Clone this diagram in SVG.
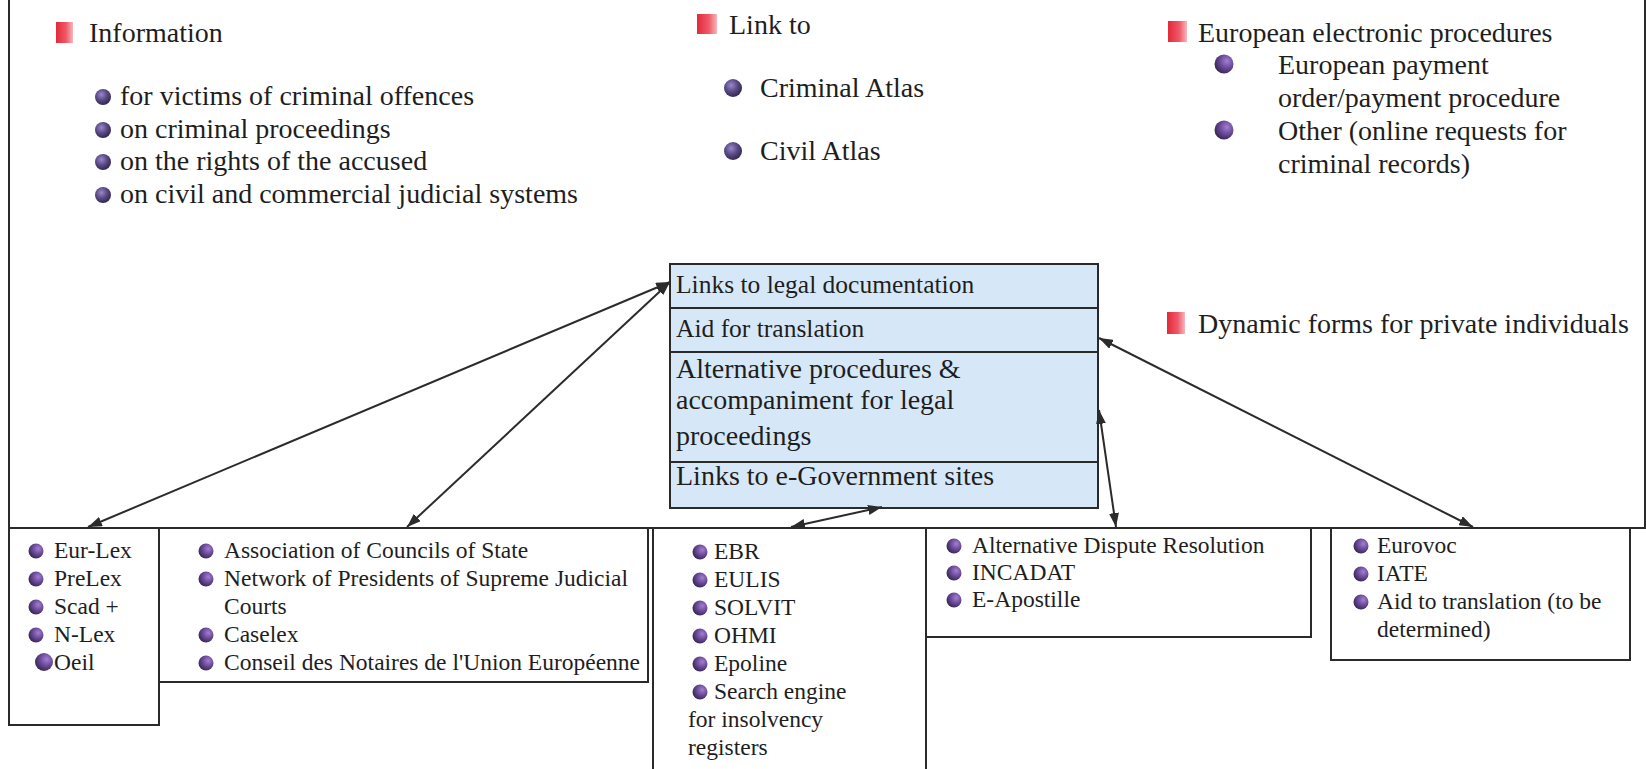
<svg xmlns="http://www.w3.org/2000/svg" width="1646" height="769" viewBox="0 0 1646 769">
  <defs>
    <linearGradient id="redsq" x1="0" y1="0" x2="1" y2="0">
      <stop offset="0" stop-color="#e3283a"/>
      <stop offset="0.6" stop-color="#ef5a68"/>
      <stop offset="1" stop-color="#f7b6bd"/>
    </linearGradient>
    <radialGradient id="ball" cx="0.4" cy="0.35" r="0.7">
      <stop offset="0" stop-color="#9a88c8"/>
      <stop offset="0.5" stop-color="#5a4a86"/>
      <stop offset="1" stop-color="#2e2448"/>
    </radialGradient>
    <radialGradient id="ball2" cx="0.65" cy="0.35" r="0.75">
      <stop offset="0" stop-color="#a27fd0"/>
      <stop offset="0.5" stop-color="#6a4898"/>
      <stop offset="1" stop-color="#2f2245"/>
    </radialGradient>
    <marker id="arr" viewBox="0 0 14 10" refX="14" refY="5" markerWidth="14" markerHeight="10" markerUnits="userSpaceOnUse" orient="auto-start-reverse">
      <path d="M0,0 L14,5 L0,10 Z" fill="#2b2b2b"/>
    </marker>
    <style>
      text { font-family: "Liberation Serif", "Times New Roman", serif; fill: #1e1e1e; }
      .t28 { font-size: 28px; }
      .t25 { font-size: 25.5px; }
      .t23 { font-size: 23.5px; }
      .frame { fill: none; stroke: #2a2a2a; stroke-width: 2; }
      .box { fill: #ffffff; stroke: #2a2a2a; stroke-width: 2; }
      .cbox { fill: #d6e8f8; stroke: #2a2a2a; stroke-width: 2; }
      .div { stroke: #2a2a2a; stroke-width: 2; }
      .red { fill: url(#redsq); }
      .b1 { fill: url(#ball); }
      .b2 { fill: url(#ball2); }
      .conn { fill: none; stroke: #2b2b2b; stroke-width: 2; marker-start: url(#arr); marker-end: url(#arr); }
    </style>
  </defs>

  <rect width="1646" height="769" fill="#ffffff"/>

  <g id="outer-frame">
    <path class="frame" d="M9,-2 L9,528 M1645,-2 L1645,528 M9,528 L1646,528"/>
  </g>

  <g id="information">
    <rect class="red" x="56" y="22" width="17" height="21"/>
    <text class="t28" x="89" y="42">Information</text>
    <circle class="b1" cx="103" cy="97" r="8"/>
    <text class="t28" x="120" y="105">for victims of criminal offences</text>
    <circle class="b1" cx="103" cy="130" r="8"/>
    <text class="t28" x="120" y="138">on criminal proceedings</text>
    <circle class="b1" cx="103" cy="162" r="8"/>
    <text class="t28" x="120" y="170">on the rights of the accused</text>
    <circle class="b1" cx="103" cy="195" r="8"/>
    <text class="t28" x="120" y="203">on civil and commercial judicial systems</text>
  </g>

  <g id="link-to">
    <rect class="red" x="697" y="14" width="20" height="20"/>
    <text class="t28" x="729" y="34">Link to</text>
    <circle class="b1" cx="733" cy="88" r="9"/>
    <text class="t28" x="760" y="97">Criminal Atlas</text>
    <circle class="b1" cx="733" cy="151" r="9"/>
    <text class="t28" x="760" y="160">Civil Atlas</text>
  </g>

  <g id="european-procedures">
    <rect class="red" x="1168" y="21" width="19" height="21"/>
    <text class="t28" x="1198" y="42">European electronic procedures</text>
    <circle class="b2" cx="1224" cy="64" r="9.5"/>
    <text class="t28" x="1278" y="74">European payment</text>
    <text class="t28" x="1278" y="107">order/payment procedure</text>
    <circle class="b2" cx="1224" cy="130" r="9.5"/>
    <text class="t28" x="1278" y="140">Other (online requests for</text>
    <text class="t28" x="1278" y="173">criminal records)</text>
  </g>

  <g id="dynamic-forms">
    <rect class="red" x="1167" y="312" width="18" height="22"/>
    <text class="t28" x="1198" y="333">Dynamic forms for private individuals</text>
  </g>

  <g id="center-box">
    <rect class="cbox" x="670" y="264" width="428" height="244"/>
    <line class="div" x1="670" y1="308" x2="1098" y2="308"/>
    <line class="div" x1="670" y1="352" x2="1098" y2="352"/>
    <line class="div" x1="670" y1="462" x2="1098" y2="462" stroke-width="3.5"/>
    <text class="t25" x="676" y="293">Links to legal documentation</text>
    <text class="t25" x="676" y="337">Aid for translation</text>
    <text class="t28" x="676" y="378">Alternative procedures &amp;</text>
    <text class="t28" x="676" y="409">accompaniment for legal</text>
    <text class="t28" x="676" y="445">proceedings</text>
    <text class="t28" x="676" y="485">Links to e-Government sites</text>
  </g>

  <g id="box-lex">
    <rect class="box" x="9" y="528" width="150" height="197"/>
    <circle class="b2" cx="36" cy="551" r="7.5"/>
    <text class="t23" x="54" y="558">Eur-Lex</text>
    <circle class="b2" cx="36" cy="579" r="7.5"/>
    <text class="t23" x="54" y="586">PreLex</text>
    <circle class="b2" cx="36" cy="607" r="7.5"/>
    <text class="t23" x="54" y="614">Scad +</text>
    <circle class="b2" cx="36" cy="635" r="7.5"/>
    <text class="t23" x="54" y="642">N-Lex</text>
    <circle class="b2" cx="44" cy="662" r="9"/>
    <text class="t23" x="54" y="670">Oeil</text>
  </g>

  <g id="box-councils">
    <rect class="box" x="159" y="528" width="489" height="154"/>
    <circle class="b2" cx="206" cy="551" r="7.5"/>
    <text class="t23" x="224" y="558">Association of Councils of State</text>
    <circle class="b2" cx="206" cy="579" r="7.5"/>
    <text class="t23" x="224" y="586">Network of Presidents of Supreme Judicial</text>
    <text class="t23" x="224" y="614">Courts</text>
    <circle class="b2" cx="206" cy="635" r="7.5"/>
    <text class="t23" x="224" y="642">Caselex</text>
    <circle class="b2" cx="206" cy="663" r="7.5"/>
    <text class="t23" x="224" y="670">Conseil des Notaires de l'Union Européenne</text>
  </g>

  <g id="box-registers">
    <rect class="box" x="653" y="528" width="273" height="262"/>
    <circle class="b2" cx="700" cy="552" r="7.5"/>
    <text class="t23" x="714" y="559">EBR</text>
    <circle class="b2" cx="700" cy="580" r="7.5"/>
    <text class="t23" x="714" y="587">EULIS</text>
    <circle class="b2" cx="700" cy="608" r="7.5"/>
    <text class="t23" x="714" y="615">SOLVIT</text>
    <circle class="b2" cx="700" cy="636" r="7.5"/>
    <text class="t23" x="714" y="643">OHMI</text>
    <circle class="b2" cx="700" cy="664" r="7.5"/>
    <text class="t23" x="714" y="671">Epoline</text>
    <circle class="b2" cx="700" cy="692" r="7.5"/>
    <text class="t23" x="714" y="699">Search engine</text>
    <text class="t23" x="688" y="727">for insolvency</text>
    <text class="t23" x="688" y="755">registers</text>
  </g>

  <g id="box-dispute">
    <rect class="box" x="926" y="528" width="385" height="109"/>
    <circle class="b2" cx="954" cy="546" r="7.5"/>
    <text class="t23" x="972" y="553">Alternative Dispute Resolution</text>
    <circle class="b2" cx="954" cy="573" r="7.5"/>
    <text class="t23" x="972" y="580">INCADAT</text>
    <circle class="b2" cx="954" cy="600" r="7.5"/>
    <text class="t23" x="972" y="607">E-Apostille</text>
  </g>

  <g id="box-translation">
    <rect class="box" x="1331" y="528" width="299" height="132"/>
    <circle class="b2" cx="1361" cy="546" r="7.5"/>
    <text class="t23" x="1377" y="553">Eurovoc</text>
    <circle class="b2" cx="1361" cy="574" r="7.5"/>
    <text class="t23" x="1377" y="581">IATE</text>
    <circle class="b2" cx="1361" cy="602" r="7.5"/>
    <text class="t23" x="1377" y="609">Aid to translation (to be</text>
    <text class="t23" x="1377" y="637">determined)</text>
  </g>

  <g id="connectors">
    <line class="conn" x1="670" y1="282" x2="88" y2="527"/>
    <line class="conn" x1="670" y1="282" x2="407" y2="527"/>
    <line class="conn" x1="882" y1="507" x2="791" y2="527"/>
    <line class="conn" x1="1099" y1="410" x2="1116" y2="527"/>
    <line class="conn" x1="1099" y1="338" x2="1473" y2="527"/>
  </g>
</svg>
